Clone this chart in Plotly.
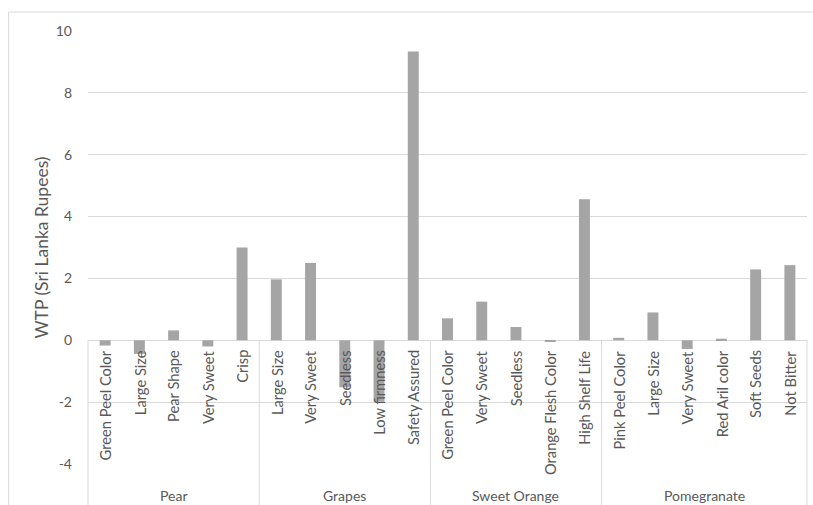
import plotly.graph_objects as go

# Product groups and their attributes
groups = ["Pear", "Grapes", "Sweet Orange", "Pomegranate"]
attributes = [
    ["Green Peel Color", "Large Size", "Pear Shape", "Very Sweet", "Crisp"],
    ["Large Size", "Very Sweet", "Seedless", "Low firmness", "Safety Assured"],
    ["Green Peel Color", "Very Sweet", "Seedless", "Orange Flesh Color", "High Shelf Life"],
    ["Pink Peel Color", "Large Size", "Very Sweet", "Red Aril color", "Soft Seeds", "Not Bitter"],
]
# Willingness to pay per attribute (Sri Lanka Rupees)
wtp = [
    [-0.17, -0.44, 0.32, -0.20, 3.00],
    [1.97, 2.50, -1.52, -1.98, 9.34],
    [0.71, 1.25, 0.43, -0.05, 4.56],
    [0.08, 0.90, -0.28, 0.05, 2.29, 2.43],
]
y_ticks = [-4, -2, 0, 2, 4, 6, 8, 10]
y_tick_labels = ["-4", "-2", "0", "2", "4", "6", "8", "10"]

GRID = "#d9d9d9"
TEXT = "#595959"
FONT = "Lato"

labels = [a for grp in attributes for a in grp]
values = [v for grp in wtp for v in grp]
xs = list(range(len(labels)))
n = len(labels)

fig = go.Figure(go.Bar(
    x=xs, y=values, width=0.32,
    marker=dict(color="#a5a5a5", line=dict(width=0)),
))

# attribute labels hang down from the zero line
for x, lab in zip(xs, labels):
    fig.add_annotation(
        x=x, y=0, xref="x", yref="y", text=lab, textangle=-90,
        showarrow=False, xanchor="center", yanchor="top", yshift=-8,
        font=dict(family=FONT, size=14.7, color=TEXT),
    )

# group labels and separators below the axis
def to_paper(xv):
    return (xv + 0.5) / n

y0_paper = (0 - y_ticks[0]) / (y_ticks[-1] - y_ticks[0])
start = 0
bounds = [-0.5]
for g, grp in zip(groups, attributes):
    end = start + len(grp)
    fig.add_annotation(
        x=(start + end - 1) / 2, y=-0.072, xref="x", yref="paper", text=g,
        showarrow=False, xanchor="center", yanchor="middle",
        font=dict(family=FONT, size=14, color=TEXT),
    )
    bounds.append(end - 0.5)
    start = end

for b in bounds:
    fig.add_shape(
        type="line", xref="paper", yref="paper",
        x0=to_paper(b), x1=to_paper(b), y0=y0_paper, y1=-0.2,
        line=dict(color=GRID, width=1),
    )

# outer chart frame
fig.add_shape(
    type="rect", xref="paper", yref="paper",
    x0=-0.1104, x1=1.05, y0=-0.2, y1=1.0438,
    line=dict(color=GRID, width=1), fillcolor="rgba(0,0,0,0)",
)

fig.update_layout(
    width=813, height=505,
    margin=dict(l=88, r=6, t=31, b=41),
    paper_bgcolor="white", plot_bgcolor="white",
    showlegend=False,
    font=dict(family=FONT, size=14, color=TEXT),
    xaxis=dict(
        range=[-0.5, n - 0.5], showgrid=False, showticklabels=False,
        zeroline=False, showline=False, ticks="",
    ),
    yaxis=dict(
        range=[y_ticks[0], y_ticks[-1]], tickvals=y_ticks, ticktext=y_tick_labels,
        showgrid=True, gridcolor=GRID, gridwidth=1,
        zeroline=True, zerolinecolor=GRID, zerolinewidth=1,
        showline=False, ticks="", ticklabelstandoff=15,
        tickfont=dict(family=FONT, size=14, color=TEXT),
        title=dict(text="WTP (Sri Lanka Rupees)", standoff=2,
                   font=dict(family=FONT, size=17.5, color=TEXT)),
    ),
)

fig.write_html("out.html")
